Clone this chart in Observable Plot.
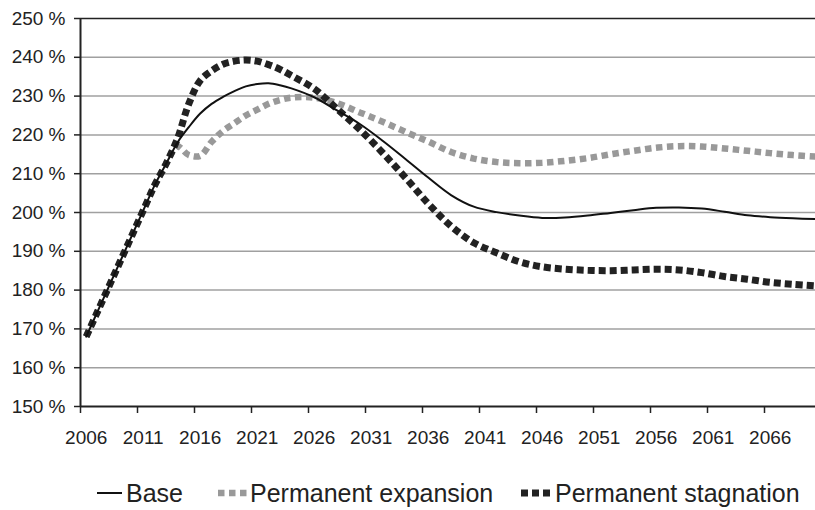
<!DOCTYPE html>
<html>
<head>
<meta charset="utf-8">
<script src="https://cdn.jsdelivr.net/npm/d3@7"></script>
<script src="https://cdn.jsdelivr.net/npm/@observablehq/plot@0.6"></script>
<style>
  html, body { margin: 0; padding: 0; background: #fff; }
  #wrap { position: relative; width: 815px; height: 510px; font-family: "Liberation Sans", Arial, sans-serif; color: #222; }
  #chart { position: absolute; left: 0; top: 0; }
  .lg { position: absolute; top: 480px; height: 26px; line-height: 26px; font-size: 25px; white-space: nowrap; }
  .sym { position: absolute; top: 480px; height: 26px; }
</style>
</head>
<body>
<div id="wrap">
  <div id="chart"></div>
  <svg class="sym" style="left:97px" width="26" height="26"><line x1="0" x2="25" y1="13" y2="13" stroke="#111" stroke-width="2"/></svg>
  <div class="lg" style="left:126px">Base</div>
  <svg class="sym" style="left:218px" width="30" height="26"><line x1="0" x2="29" y1="13" y2="13" stroke="#999" stroke-width="6.5" stroke-dasharray="6.5,4.5" stroke-linecap="butt"/></svg>
  <div class="lg" style="left:250px">Permanent expansion</div>
  <svg class="sym" style="left:521px" width="32" height="26"><line x1="0" x2="30" y1="13" y2="13" stroke="#222" stroke-width="7" stroke-dasharray="7,4" stroke-linecap="butt"/></svg>
  <div class="lg" style="left:555px">Permanent stagnation</div>
</div>
<script>
const years = [2006,2007,2008,2009,2010,2011,2012,2013,2014,2015,2016,2017,2018,2019,2020,2021,2022,2023,2024,
  2026,2028,2030,2032,2034,2036,2038,2040,2042,2044,2046,2048,2050,2052,2054,2056,2058,2060,2062,2064,2066,2068,2070];

const base = [168,174.5,181,187.5,194,200.5,207,212.5,218,222,225.5,228,229.8,231.3,232.5,233.1,233.3,232.8,232,
  229.7,226.3,222.8,218.5,213.8,209,204.5,201.5,200.1,199.2,198.6,198.7,199.2,199.9,200.6,201.2,201.3,201.0,200.2,199.3,198.8,198.5,198.3];

const expansion = [168,174.5,181,187.5,194,200.5,207,212.5,217,214.8,214.6,218.2,221,223,225,226.5,228,229,229.6,
  229.6,228.2,225.8,223.4,220.8,218.3,215.6,213.9,213.0,212.7,212.8,213.3,214.0,215.0,215.9,216.7,217.1,217.0,216.5,215.9,215.3,214.8,214.4];

const stagnation = [168,174.5,181,187.5,194,200.5,207,212.5,219,228,234,236.5,238.2,239,239.3,239,238.1,236.9,235.3,
  231.9,226.7,221.4,215.4,209,202.3,196.5,192.2,189.6,187.3,186,185.4,185.1,185.0,185.2,185.4,185.2,184.5,183.5,182.8,182.0,181.5,181.1];

const yTicks = [150,160,170,180,190,200,210,220,230,240,250];
const gridValues = [160,170,180,190,200,210,220,230,240];
const xLabels = [2006,2011,2016,2021,2026,2031,2036,2041,2046,2051,2056,2061,2066];
const xBoundaries = xLabels.map(d => d - 0.5);

const pts = arr => years.map((yr, i) => ({year: yr, v: arr[i]}));

const x0 = 2005.5, x1 = 2005.5 + 735 / 11.4;

const chart = Plot.plot({
  width: 815,
  height: 452,
  marginLeft: 80,
  marginRight: 0,
  marginTop: 18,
  marginBottom: 46,
  style: {fontFamily: '"Liberation Sans", Arial, sans-serif', fontSize: "19px", color: "#222", background: "#fff"},
  x: {domain: [x0, x1], label: null},
  y: {domain: [150, 250], label: null},
  marks: [
    Plot.ruleY(gridValues, {stroke: "#a0a0a0", strokeWidth: 1.5}),
    Plot.ruleY([250], {stroke: "#222", strokeWidth: 1.5}),
    Plot.line(pts(expansion), {x: "year", y: "v", curve: "catmull-rom", stroke: "#999", strokeWidth: 6.5, strokeDasharray: "6.5,4.5", strokeLinecap: "butt", strokeLinejoin: "miter", clip: true}),
    Plot.line(pts(stagnation), {x: "year", y: "v", curve: "catmull-rom", stroke: "#222", strokeWidth: 7, strokeDasharray: "7,4", strokeLinecap: "butt", strokeLinejoin: "miter", clip: true}),
    Plot.line(pts(base), {x: "year", y: "v", curve: "catmull-rom", stroke: "#111", strokeWidth: 2, clip: true}),
    Plot.ruleX([x0], {stroke: "#222", strokeWidth: 2}),
    Plot.ruleY([150], {stroke: "#222", strokeWidth: 2}),
    Plot.axisY(yTicks, {tickFormat: d => d + " %", tickSize: 6, tickPadding: 9, stroke: "#222", strokeWidth: 1.5, fill: "#222", label: null}),
    Plot.axisX(xBoundaries, {tickFormat: () => "", tickSize: 7, stroke: "#222", strokeWidth: 1.5, label: null}),
    Plot.axisX(xLabels, {tickFormat: d => String(d), tickSize: 0, tickPadding: 24, fill: "#222", label: null})
  ]
});
document.getElementById("chart").appendChild(chart);
</script>
</body>
</html>
